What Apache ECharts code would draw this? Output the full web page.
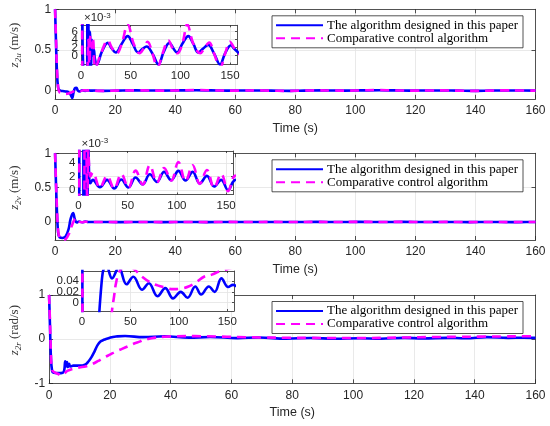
<!DOCTYPE html>
<html>
<head>
<meta charset="utf-8">
<title>z2 tracking errors</title>
<script src="https://cdn.jsdelivr.net/npm/echarts@6.0.0/dist/echarts.min.js"></script>
<style>
  html, body { margin: 0; padding: 0; background: #fff; }
  #main { width: 550px; height: 426px; }
</style>
</head>
<body>
<div id="main"></div>
<script>
// series names
var NAME_A = 'The algorithm designed in this paper';
var NAME_C = 'Comparative control algorithm';

// tick values
var timeTicks = [0, 20, 40, 60, 80, 100, 120, 140, 160];
var insetTimeTicks = [0, 50, 100, 150];
var uTicks = [0, 0.5, 1];
var vTicks = [0, 0.5, 1];
var rTicks = [-1, 0, 1];
var uInsetTicks = [0, 0.002, 0.004, 0.006];
var vInsetTicks = [0, 0.002, 0.004];
var rInsetTicks = [0, 0.02, 0.04];

// z_2u
var tUA = [0, 0.3, 0.6, 1, 1.5, 2.5, 3.5, 4.5, 5.2, 5.7, 6.1, 6.6, 7.1, 7.6, 8.2, 9, 10, 11, 12, 13,
           14, 16, 21, 27, 31, 35, 41, 47, 52, 57.5, 62, 66, 72, 78, 83, 89, 93, 96.5, 102, 108,
           113, 118, 123, 128, 134, 140, 145, 151, 154, 160];
var zUA = [1, 0.6, 0.25, 0.04, 0.005, -0.005, -0.01, -0.02, -0.05, -0.09, -0.03, 0.03, 0.035, 0.0, -0.01, 0.006, -0.003, 0.004, 0.0, 0.0015,
           -0.0008, -0.0022, 0.001, 0.0032, 0.0018, 0.0008, 0.003, 0.0049, 0.003, 0.0008, 0.0017, 0.0023, 0.0005, -0.0022, 0.0008, 0.0032, 0.0018, 0.0008, 0.003, 0.0049,
           0.003, 0.0008, 0.0018, 0.0027, 0.0005, -0.0022, 0.0006, 0.0026, 0.0018, 0.0004];
var tUC = [0, 0.3, 0.6, 1, 1.5, 2.5, 3.5, 4.5, 5.5, 6.5, 7.5, 8.5, 9.5, 10.5, 12, 14.5, 20, 27, 31, 36,
           41, 47, 53, 59, 63, 67, 72, 77, 82, 88, 92, 97, 102, 107, 113, 120, 124, 129, 134, 140,
           145, 150, 154, 160];
var zUC = [1, 0.65, 0.3, 0.05, -0.02, -0.035, -0.04, -0.035, -0.02, -0.005, 0.004, -0.004, 0.005, 0.002, 0.004, -0.003, 0.0005, 0.0038, 0.002, 0.0006,
           0.003, 0.0078, 0.003, 0.0006, 0.0018, 0.0035, 0.0005, -0.003, 0.0005, 0.0038, 0.002, 0.0006, 0.003, 0.0078, 0.003, 0.0006, 0.0018, 0.0033, 0.0005, -0.003,
           0.0005, 0.0035, 0.002, 0.0002];

// z_2v
var tVA = [0, 0.5, 1, 1.5, 2.5, 3.5, 4.5, 5.2, 6, 6.6, 7.2, 8, 9, 10, 11, 12, 14.5, 21.75, 29, 36.25,
           43.5, 50.75, 58, 65.25, 72.5, 79.75, 87, 94.25, 101.5, 108.75, 116, 123.25, 130.5, 137.75, 145, 152, 157, 160];
var zVA = [1, 0.3, -0.15, -0.22, -0.23, -0.21, -0.1, 0.05, 0.13, 0.04, -0.005, 0.008, -0.002, 0.007, 0.0015, 0.001, 0.0015, 0.0004, 0.0015, 0.0002,
           0.00155, 0.00035, 0.00185, 0.00085, 0.00235, 0.0012, 0.0027, 0.00145, 0.00285, 0.0014, 0.0027, 0.00095, 0.0021, 0.0005, 0.0015, -0.00005, 0.0012, 0.0016];
var tVC = [0, 0.5, 1, 1.5, 2.5, 3.5, 4.5, 5.5, 6.5, 7.2, 8, 9, 10, 11, 12, 14.5, 21.75, 29, 36.25, 43.5,
           50.75, 58, 65.25, 72.5, 79.75, 87, 94.25, 101.5, 108.75, 116, 123.25, 130.5, 137.75, 145, 152, 157, 160];
var zVC = [1, 0.35, -0.12, -0.22, -0.26, -0.25, -0.18, -0.06, 0.04, 0.06, 0.01, -0.002, 0.006, 0.003, 0.002, 0.0026, 0.0003, 0.0021, 0.0002, 0.0024,
           0.0003, 0.0029, 0.0008, 0.0037, 0.0011, 0.0033, 0.0014, 0.0042, 0.0013, 0.0037, 0.0009, 0.003, 0.0003, 0.0024, -0.0002, 0.0018, 0.0022];

// z_2r
var tRA = [0, 0.3, 0.6, 1, 1.5, 3, 4.5, 5, 5.3, 5.6, 5.9, 6.2, 6.6, 7, 8, 10, 12, 13, 14, 15,
           16, 17, 18, 19, 20, 21, 22, 25, 31, 38, 46, 53, 62, 69, 78, 86, 94, 102, 109, 117,
           123, 131, 137, 144, 151, 156, 160];
var zRA = [1, 0.3, -0.4, -0.72, -0.76, -0.77, -0.76, -0.7, -0.5, -0.62, -0.52, -0.63, -0.56, -0.62, -0.6, -0.6, -0.57, -0.5, -0.4, -0.27,
           -0.13, -0.05, -0.015, 0.01, 0.032, 0.05, 0.06, 0.07, 0.045, 0.065, 0.034, 0.048, 0.024, 0.036, 0.012, 0.027, 0.008, 0.02, 0.009, 0.03,
           0.015, 0.03, 0.02, 0.045, 0.029, 0.033, 0.03];
var tRC = [0, 0.3, 0.6, 1, 2, 3, 4, 5, 6, 8, 10, 12, 14, 16, 18, 20, 22, 24, 26, 28,
           30, 31, 33, 35, 38, 42, 48, 55, 62, 70, 78, 86, 94, 102, 110, 118, 126, 134, 142, 150,
           156, 160];
var zRC = [1, 0.4, -0.3, -0.7, -0.76, -0.79, -0.82, -0.78, -0.72, -0.67, -0.64, -0.62, -0.57, -0.5, -0.42, -0.35, -0.28, -0.22, -0.16, -0.1,
           -0.05, -0.015, 0.01, 0.035, 0.055, 0.065, 0.068, 0.06, 0.048, 0.038, 0.032, 0.028, 0.025, 0.026, 0.03, 0.038, 0.048, 0.052, 0.058, 0.062,
           0.065, 0.066];

var BLUE = '#0000ff';
var MAGENTA = '#ff00ff';
var FRAME = '#262626';
var GRIDLINE = '#e3e3e3';
var SANS = '"Liberation Sans", Arial, sans-serif';
var SERIF = '"Liberation Serif", "Times New Roman", serif';

function pairs(t, v) {
  var out = [];
  for (var i = 0; i < Math.min(t.length, v.length); i++) out.push([t[i], v[i]]);
  return out;
}

function inner(ticks, min, max) {
  return ticks.filter(function (v) { return v > min + 1e-9 && v < max - 1e-9; });
}

// every other tick, so crowded inset labels can sit on two axes and all stay visible
function alternate(ticks, odd) {
  return ticks.filter(function (v, k) { return k % 2 === (odd ? 1 : 0); });
}

// panel layouts: 0-2 main axes, 3-5 insets
var panels = [
  {box: {left: 44.3, top: 9.3, width: 491.2, height: 89.5}, x: [0, 160], xt: timeTicks, y: [-0.1, 1], yt: uTicks,
   sub: '2u', unit: '(m/s)', z: 1},
  {box: {left: 44.3, top: 153.3, width: 491.2, height: 86.7}, x: [0, 160], xt: timeTicks, y: [-0.26, 1], yt: vTicks,
   sub: '2v', unit: '(m/s)', z: 1},
  {box: {left: 44.3, top: 295, width: 491.2, height: 88.3}, x: [0, 160], xt: timeTicks, y: [-1, 1], yt: rTicks,
   sub: '2r', unit: '(rad/s)', z: 1},
  {box: {left: 81, top: 25.3, width: 156, height: 39.2}, x: [0, 157], xt: insetTimeTicks, y: [-0.0022, 0.0076], yt: uInsetTicks,
   scale: 1000, z: 11},
  {box: {left: 78.5, top: 151, width: 154.5, height: 43.5}, x: [0, 157], xt: insetTimeTicks, y: [-0.0007, 0.00585], yt: vInsetTicks,
   scale: 1000, z: 11},
  {box: {left: 82, top: 271, width: 152, height: 40}, x: [0, 157], xt: insetTimeTicks, y: [-0.0155, 0.0587], yt: rInsetTicks,
   z: 11}
];

var grids = [], xAxes = [], yAxes = [], labelAxes = [];
panels.forEach(function (p, i) {
  var isInset = i >= 3;
  grids.push({
    left: p.box.left, top: p.box.top, width: p.box.width, height: p.box.height,
    show: isInset, backgroundColor: '#fff', borderWidth: 0, z: isInset ? 10 : 0,
    containLabel: false
  });
  var fontSize = isInset ? 11.5 : 12;
  var line = {show: true, onZero: false, lineStyle: {color: FRAME, width: 0.8}};
  var tickStyle = {color: FRAME, width: 0.8};
  var labelStyle = {fontFamily: SANS, fontSize: fontSize, color: FRAME,
                    showMinLabel: true, showMaxLabel: true, hideOverlap: false};
  var yFormat = function (v) { return p.scale ? String(Math.round(v * p.scale)) : String(+v.toFixed(3)); };

  var xb = {
    type: 'value', gridIndex: i, position: 'bottom', min: p.x[0], max: p.x[1], z: p.z,
    axisLine: line,
    axisTick: {show: true, inside: true, length: isInset ? 2 : 4, customValues: p.xt, lineStyle: tickStyle},
    axisLabel: Object.assign({show: true, customValues: p.xt, margin: isInset ? 5 : 6}, labelStyle),
    splitLine: {show: false}
  };
  if (!isInset) {
    xb.name = 'Time (s)';
    xb.nameLocation = 'middle';
    xb.nameGap = 23;
    xb.nameTextStyle = {fontFamily: SANS, fontSize: 12.5, color: FRAME};
  }
  var xt = {
    type: 'value', gridIndex: i, position: 'top', min: p.x[0], max: p.x[1], z: p.z,
    axisLine: line,
    axisTick: {show: true, inside: true, length: isInset ? 2 : 4, customValues: inner(p.xt, p.x[0], p.x[1]), lineStyle: tickStyle},
    axisLabel: {show: false},
    splitLine: {show: true, lineStyle: {color: GRIDLINE, width: 0.8}}
  };
  var firstLabels = isInset ? alternate(p.yt, false) : p.yt;
  var yl = {
    type: 'value', gridIndex: i, position: 'left', min: p.y[0], max: p.y[1], z: p.z,
    axisLine: line,
    axisTick: {show: true, inside: true, length: isInset ? 2 : 4, customValues: p.yt, lineStyle: tickStyle},
    axisLabel: Object.assign({show: true, customValues: firstLabels, margin: isInset ? 3 : 4, formatter: yFormat}, labelStyle),
    splitLine: {show: false}
  };
  if (!isInset) {
    yl.name = '{z|z}{s|' + p.sub + '}{u| ' + p.unit + '}';
    yl.nameLocation = 'middle';
    yl.nameGap = 22;
    yl.nameTextStyle = {
      color: '#333', padding: [0, 0, 0, 18],
      rich: {
        z: {fontFamily: SERIF, fontStyle: 'italic', fontSize: 13, lineHeight: 18, color: '#333'},
        s: {fontFamily: SERIF, fontStyle: 'italic', fontSize: 9, lineHeight: 10, verticalAlign: 'bottom', color: '#333'},
        u: {fontFamily: SERIF, fontSize: 13, lineHeight: 18, color: '#333'}
      }
    };
  } else {
    // second label-only axis carrying the in-between inset labels
    labelAxes.push({
      type: 'value', gridIndex: i, position: 'left', min: p.y[0], max: p.y[1], z: p.z,
      axisLine: {show: false, onZero: false},
      axisTick: {show: false, customValues: alternate(p.yt, true)},
      axisLabel: Object.assign({show: true, customValues: alternate(p.yt, true), margin: 3, formatter: yFormat}, labelStyle),
      splitLine: {show: false}
    });
    if (p.scale) {
      yl.name = '{a|×10}{b|-3}';
      yl.nameLocation = 'end';
      yl.nameGap = 0;
      yl.nameTextStyle = {
        align: 'left', verticalAlign: 'bottom', padding: [0, 0, 0, 3],
        rich: {
          a: {fontFamily: SANS, fontSize: 11.5, lineHeight: 14, color: FRAME},
          b: {fontFamily: SANS, fontSize: 8, lineHeight: 8, verticalAlign: 'top', color: FRAME}
        }
      };
    }
  }
  var yr = {
    type: 'value', gridIndex: i, position: 'right', min: p.y[0], max: p.y[1], z: p.z,
    axisLine: line,
    axisTick: {show: true, inside: true, length: isInset ? 2 : 4, customValues: inner(p.yt, p.y[0], p.y[1]), lineStyle: tickStyle},
    axisLabel: {show: false},
    splitLine: {show: true, lineStyle: {color: GRIDLINE, width: 0.8}}
  };
  xAxes.push(xb, xt);
  yAxes.push(yl, yr);
});
yAxes = yAxes.concat(labelAxes);

function lineSeries(name, t, v, panel, color, dashed) {
  return {
    name: name, type: 'line', xAxisIndex: 2 * panel, yAxisIndex: 2 * panel,
    data: pairs(t, v), symbol: 'none', showSymbol: false, smooth: 0.4, clip: true,
    lineStyle: {color: color, width: 2.6, type: dashed ? [9, 6] : 'solid'},
    itemStyle: {color: color},
    z: panel >= 3 ? 12 : 2, animation: false
  };
}

var signals = [[tUA, zUA, tUC, zUC], [tVA, zVA, tVC, zVC], [tRA, zRA, tRC, zRC]];
var series = [];
signals.forEach(function (s, k) {
  [k, k + 3].forEach(function (pi) {
    series.push(lineSeries(NAME_A, s[0], s[1], pi, BLUE, false));
    series.push(lineSeries(NAME_C, s[2], s[3], pi, MAGENTA, true));
  });
});

var legendTops = [15.8, 159.8, 301.5];
var legends = legendTops.map(function (top) {
  return {
    orient: 'vertical', right: 27, top: top,
    itemWidth: 47, itemHeight: 12, itemGap: 0, padding: [3, 5, 3, 3],
    backgroundColor: '#fff', borderColor: FRAME, borderWidth: 0.8, borderRadius: 0,
    itemStyle: {opacity: 0, borderWidth: 0},
    textStyle: {fontFamily: SERIF, fontSize: 13, color: '#000', padding: [0, 0, 0, -1]},
    selectedMode: false, z: 20,
    data: [NAME_A, NAME_C]
  };
});

var chart = echarts.init(document.getElementById('main'));
chart.setOption({
  backgroundColor: '#fff',
  animation: false,
  grid: grids,
  xAxis: xAxes,
  yAxis: yAxes,
  legend: legends,
  series: series
});
</script>
</body>
</html>
